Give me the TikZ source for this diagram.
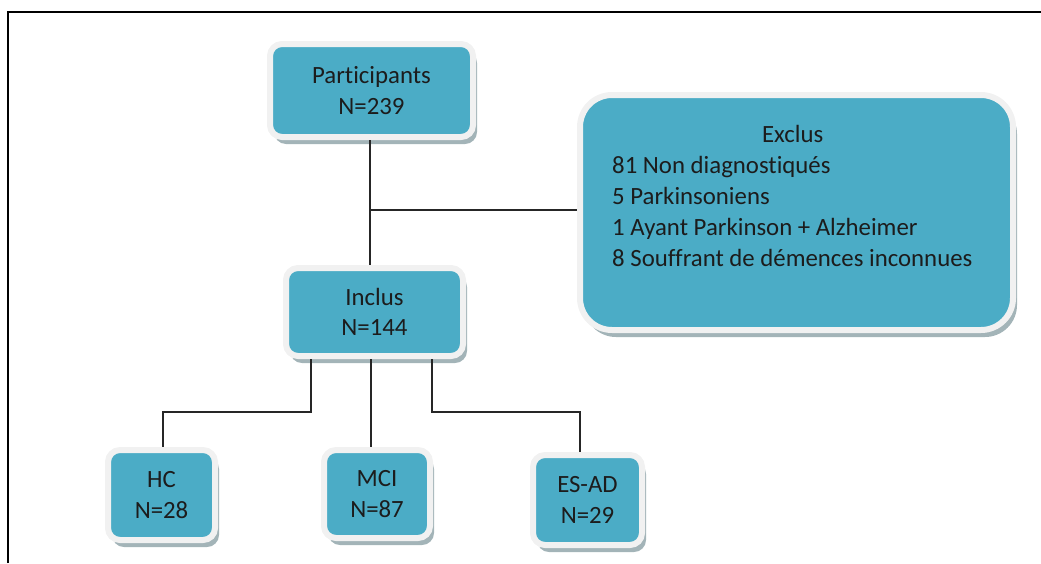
\documentclass[tikz,border=0pt]{standalone}
\usepackage{fontspec}
\setmainfont{Carlito}[Ligatures={TeX,NoCommon}]
\usetikzlibrary{shadows}
\definecolor{boxblue}{HTML}{4BACC6}
\definecolor{rimwhite}{HTML}{F1F1F1}
\definecolor{shadowc}{HTML}{A3B4B8}
\definecolor{txt}{HTML}{1C1C1C}
\tikzset{
  box/.style={draw=rimwhite, fill=boxblue, line width=6pt, rounded corners=12pt,
    inner sep=0pt, align=center, text=txt,
    font=\fontsize{24.8}{30.5}\selectfont,
    drop shadow={shadow xshift=4pt, shadow yshift=-7pt, fill=shadowc, opacity=1}},
  conn/.style={draw=black!85, line width=1.3pt},
  frame/.style={draw=black, line width=2.5pt},
}
\begin{document}
\begin{tikzpicture}[x=1pt,y=-1pt]
\useasboundingbox (0,0) rectangle (1041,563);
\clip (0,0) rectangle (1041,563);
\coordinate (f1) at (8,563);
\coordinate (f2) at (8,12);
\coordinate (f3) at (1041,12);
\draw[frame] (f1) -- (f2) -- (f3);

\node[box, minimum width=203pt, minimum height=93pt] (participants) at (371.5,90.5) {Participants\\N=239};
\node[box, minimum width=433pt, minimum height=235pt, rounded corners=32pt] (exclus) at (796.5,212.5) {};
\node[anchor=north west, inner sep=0pt, align=left, text=txt,
      font=\fontsize{24.8}{30.8}\selectfont] (exclustxt) at (612,125.5)
  {\makebox[361pt][c]{Exclus}\\81 Non diagnostiqués\\5 Parkinsoniens\\1 Ayant Parkinson + Alzheimer\\8 Souffrant de démences inconnues};
\node[box, minimum width=177pt, minimum height=88pt] (inclus) at (374.5,312) {Inclus\\N=144};
\node[box, minimum width=107pt, minimum height=90pt] (hc) at (161.5,495) {HC\\N=28};
\node[box, minimum width=106pt, minimum height=88pt] (mci) at (377,494) {MCI\\N=87};
\node[box, minimum width=109pt, minimum height=90pt] (esad) at (587.5,500) {ES-AD\\N=29};

\coordinate (t) at (370,210);
\coordinate (a1) at (311,412);
\coordinate (m) at (371,412);
\coordinate (a2) at (432,412);
\coordinate (b1) at (163,412);
\coordinate (b3) at (580,412);

\draw[conn] (participants.south -| t) -- (inclus.north -| t);
\draw[conn] (t) -- (exclus.west |- t);
\draw[conn] (inclus.south -| a1) -- (a1) -- (b1) -- (hc.north -| b1);
\draw[conn] (inclus.south -| m) -- (mci.north -| m);
\draw[conn] (inclus.south -| a2) -- (a2) -- (b3) -- (esad.north -| b3);
\end{tikzpicture}
\end{document}
